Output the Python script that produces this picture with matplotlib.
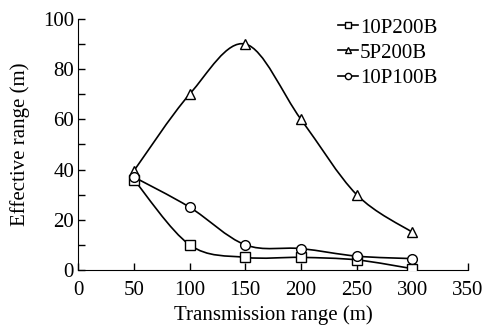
import numpy as np
import matplotlib
matplotlib.use("Agg")
import matplotlib.pyplot as plt
from matplotlib.path import Path
from matplotlib.patches import PathPatch
from matplotlib.lines import Line2D

plt.rcParams['font.family'] = ['Liberation Serif', 'DejaVu Serif']

x = [50, 100, 150, 200, 250, 300]
s_10p200b = [36, 10, 5, 5, 4, 0.5]
s_5p200b = [39.5, 70, 90, 60, 30, 15]
s_10p100b = [37, 25, 10, 8.5, 5.5, 4.5]
labels = ["10P200B", "5P200B", "10P100B"]
markers = ["s", "^", "o"]
xticks = [0, 50, 100, 150, 200, 250, 300, 350]
yticks = [0, 20, 40, 60, 80, 100]

fig = plt.figure(figsize=(4.89, 3.26), dpi=100)
ax = fig.add_axes([0.16, 0.172, 0.797, 0.77])


def smooth_path(xs, ys):
    P = np.column_stack([xs, ys]).astype(float)
    n = len(P)
    verts = [P[0]]
    codes = [Path.MOVETO]
    for i in range(n - 1):
        p0 = P[i - 1] if i > 0 else P[i]
        p1 = P[i]
        p2 = P[i + 1]
        p3 = P[i + 2] if i + 2 < n else P[i + 1]
        c1 = p1 + (p2 - p0) / 6.0
        c2 = p2 - (p3 - p1) / 6.0
        verts += [c1, c2, p2]
        codes += [Path.CURVE4] * 3
    return Path(verts, codes)


handles = []
for ys, lab, mk in zip([s_10p200b, s_5p200b, s_10p100b], labels, markers):
    ax.add_patch(PathPatch(smooth_path(x, ys), fill=False, edgecolor='black', lw=1.2, zorder=2))
    ax.plot(x, ys, linestyle='none', marker=mk, markersize=7, markerfacecolor='white',
            markeredgecolor='black', markeredgewidth=1.0, zorder=3)
    handles.append(Line2D([], [], color='black', lw=1.2, marker=mk, markersize=4.5,
                          markerfacecolor='white', markeredgecolor='black', markeredgewidth=1.0))

ax.set_xlim(0, 350)
ax.set_ylim(0, 100)
ax.set_xticks(xticks)
ax.set_yticks(yticks)
ax.set_yticks(range(10, 100, 20), minor=True)
ax.tick_params(direction='in', length=5, width=1, labelsize=15, pad=3)
ax.tick_params(axis='x', pad=8)
ax.tick_params(which='minor', direction='in', length=5, width=1)
ax.spines['top'].set_visible(False)
ax.spines['right'].set_visible(False)
ax.set_xlabel("Transmission range (m)", fontsize=15, labelpad=4)
ax.set_ylabel("Effective range (m)", fontsize=15, labelpad=9)

ax.legend(handles, labels, loc='upper left', bbox_to_anchor=(338 / 489, 1 - 18 / 326),
          bbox_transform=fig.transFigure, frameon=False, borderpad=0, borderaxespad=0,
          fontsize=15, handlelength=0.95, handletextpad=0.1, labelspacing=0.27)

fig.savefig("out.png", dpi=100)
